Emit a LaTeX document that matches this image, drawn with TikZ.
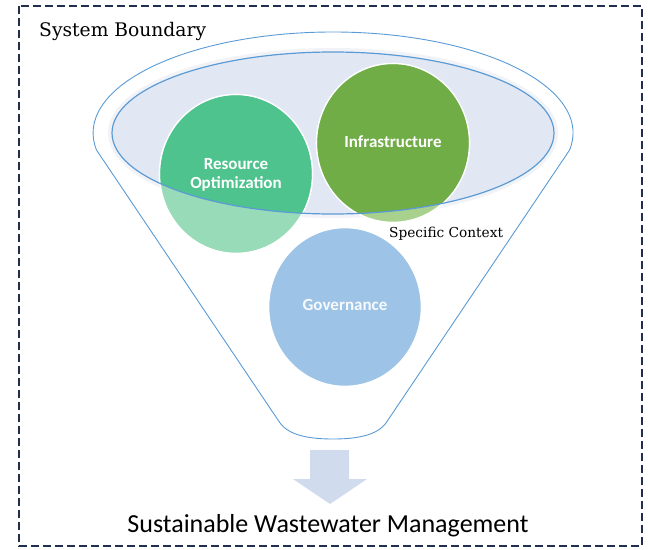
\documentclass[tikz,border=0pt]{standalone}
\usepackage{fontspec}
\setmainfont{Carlito}
\newfontfamily\serifb{DejaVu Serif}
\usetikzlibrary{shapes.geometric}
\definecolor{funnelblue}{HTML}{5B9BD5}
\definecolor{ellfill}{HTML}{E1E8F4}
\definecolor{ellglow}{HTML}{F1F3F7}
\definecolor{resdark}{HTML}{4EC38E}
\definecolor{reslight}{HTML}{97DBB8}
\definecolor{infdark}{HTML}{70AD47}
\definecolor{inflight}{HTML}{A9D18E}
\definecolor{govblue}{HTML}{9DC3E6}
\definecolor{arrowfill}{HTML}{D0DCEE}
\definecolor{borderc}{HTML}{1F2F4D}
\tikzset{
  bubble/.style={ellipse, draw=white, line width=1.6pt, minimum width=153pt, minimum height=159pt, inner sep=0pt},
  bubtext/.style={text=white, font=\fontsize{17}{19}\selectfont\bfseries, align=center, inner sep=0pt},
  serlabel/.style={font=\serifb, text=black, inner sep=0pt},
}
\begin{document}
\begin{tikzpicture}[x=1pt,y=-1pt]
\useasboundingbox (0,0) rectangle (648,549);
% border
\draw[borderc, line width=1.8pt, dash pattern=on 8pt off 4pt] (19,6) rectangle (642,546);
% funnel outline
\draw[funnelblue, line width=0.9pt, fill=white]
  (569.6,150) arc[start angle=9.7, end angle=-189.7, x radius=240, y radius=101]
  -- (278,420) .. controls (285,432) and (300,439) .. (333,439)
  .. controls (366,439) and (381,432) .. (388,420) -- cycle;
% inner ellipse
\draw[ellglow, line width=6pt] (333,133) ellipse[x radius=222, y radius=82];
\fill[ellfill] (333,133) ellipse[x radius=221, y radius=81];
% bubbles (light)
\node[bubble, fill=reslight] (res) at (236,174) {};
\node[bubble, fill=inflight] (inf) at (393,143) {};
\node[bubble, fill=govblue, draw=white] (gov) at (345,307) {};
% dark parts inside the ellipse
\begin{scope}
  \clip (333,133) ellipse[x radius=221, y radius=81];
  \fill[resdark] (res.center) ellipse[x radius=75.7, y radius=78.7];
  \fill[infdark] (inf.center) ellipse[x radius=75.7, y radius=78.7];
\end{scope}
\draw[funnelblue, line width=1.2pt] (333,133) ellipse[x radius=221, y radius=81];
% bubble texts
\node[bubtext] (restext) at (236,175) {Resource\\Optimization};
\node[bubtext] (inftext) at (393,142) {Infrastructure};
\node[bubtext, text=white!92!govblue] (govtext) at (345,305) {Governance};
% labels
\node[serlabel, font=\serifb\fontsize{18.7}{20}\selectfont, anchor=base west] (sysb) at (39,36) {System Boundary};
\node[serlabel, font=\serifb\fontsize{13.7}{16}\selectfont, anchor=base west] (spec) at (389,237) {Specific Context};
% arrow
\fill[arrowfill] (310,450) -- (349,450) -- (349,479) -- (367,479) -- (330,504) -- (293,479) -- (310,479) -- cycle;
\node[font=\fontsize{26}{30}\selectfont, anchor=base, inner sep=0pt] (title) at (328,532) {Sustainable Wastewater Management};
\end{tikzpicture}
\end{document}
